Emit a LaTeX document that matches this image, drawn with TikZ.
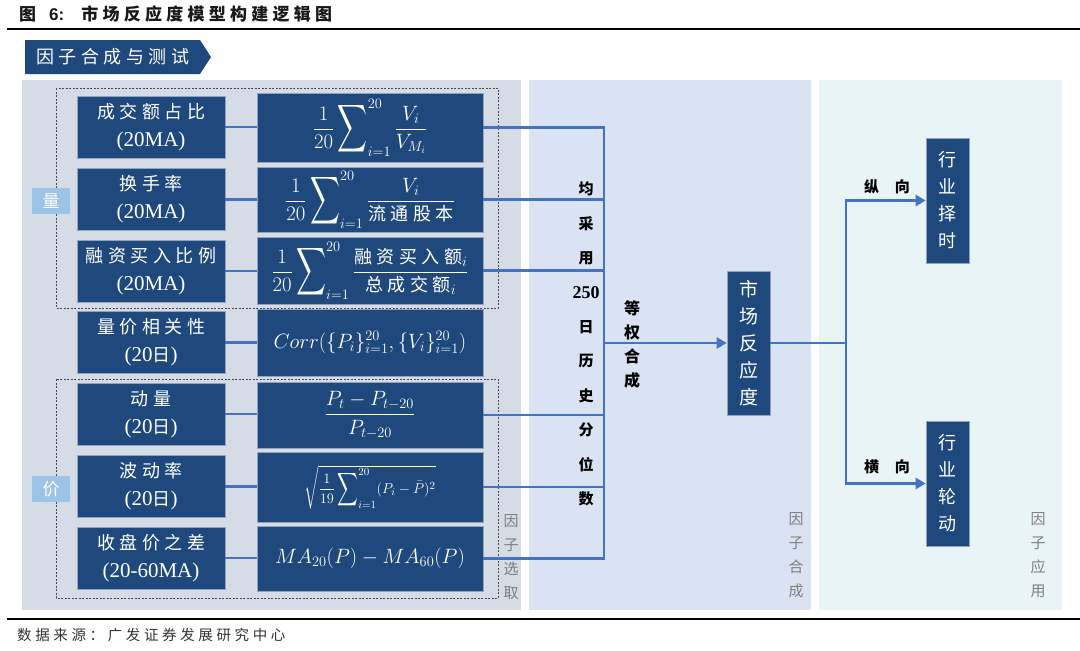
\documentclass[tikz,border=0pt]{standalone}
\usepackage{amsmath}
\usepackage{graphicx}
\usepackage{fontspec}
\setmainfont{Liberation Serif}
\newfontfamily\cjk{Noto Sans CJK SC}
\newfontfamily\cjks[LetterSpace=25]{Noto Sans CJK SC}
\newfontfamily\arialb{Liberation Sans}
\usetikzlibrary{arrows.meta}

\definecolor{navy}{HTML}{1F497D}
\definecolor{linkblue}{HTML}{4472C4}
\definecolor{panelA}{HTML}{D6DCE5}
\definecolor{panelB}{HTML}{DAE3F3}
\definecolor{panelC}{HTML}{E9F4F6}
\definecolor{tagblue}{HTML}{9DC3E6}
\definecolor{graytxt}{HTML}{7F7F7F}

\newcommand{\zh}[1]{{\cjks\fontsize{18}{28}\selectfont #1}}
\newcommand{\bigsig}{\mathop{\vcenter{\hbox{\scalebox{1}[1.6]{$\displaystyle\sum$}}}}\nolimits}

\tikzset{
  factor/.style={draw=navy!50!white, line width=0.6pt, fill=navy, text=white,
    minimum width=148pt, minimum height=62pt, inner sep=0pt, align=center,
    font=\fontsize{21}{28}\selectfont},
  formula/.style={factor, minimum width=226pt, font=\fontsize{20}{24}\selectfont},
  vbox/.style={factor, minimum width=43pt, font=\cjk\fontsize{18}{27}\selectfont},
  tag/.style={fill=tagblue, text=white, minimum width=38pt, minimum height=26pt,
    inner sep=0pt, font=\cjk\fontsize{17}{17}\selectfont},
  link/.style={draw=linkblue, line width=2.6pt},
  bus/.style={link, line cap=rect},
  arrow/.style={link, -{Triangle[length=10pt,width=11pt]}},
  zone/.style={text=graytxt, align=center, inner sep=0pt,
    font=\cjk\fontsize{15}{24}\selectfont},
  note/.style={align=center, inner sep=0pt, text=black},
}

\begin{document}
\begin{tikzpicture}[x=1pt, y=-1pt]
  \useasboundingbox (0,0) rectangle (1080,651);

  % 标题与分隔线
  \node[anchor=west, inner sep=0pt, text=black!90] (title) at (19,14)
    {{\cjk\bfseries\fontsize{17}{17}\selectfont 图}\hspace{13pt}{\arialb\bfseries\fontsize{17}{17}\selectfont 6:}\hspace{17pt}{\cjks\bfseries\fontsize{17}{17}\selectfont 市场反应度模型构建逻辑图}};
  \draw[line width=1.6pt] (7,29) -- (1080,29);
  \draw[line width=1.6pt] (7,619) -- (1080,619);
  \node[anchor=west, inner sep=0pt, text=black!80] (src) at (17,635)
    {\cjks\fontsize{14.5}{15}\selectfont 数据来源：广发证券发展研究中心};

  % 标签页
  \fill[navy] (25,40) -- (200,40) -- (211,57) -- (200,74) -- (25,74) -- cycle;
  \node[anchor=west, inner sep=0pt, text=white] (tab) at (36,57)
    {\cjks\fontsize{18}{18}\selectfont 因子合成与测试};

  % 三个背景分区
  \fill[panelA] (22,80) rectangle (521,610);
  \fill[panelB] (529,80) rectangle (811,610);
  \fill[panelC] (819,80) rectangle (1062,610);
  \node[zone] (zsel) at (511,557) {因\\子\\选\\取};
  \node[zone] (zsyn) at (796,555) {因\\子\\合\\成};
  \node[zone] (zuse) at (1038,555) {因\\子\\应\\用};

  % 虚线分组：量、价
  \draw[dashed, dash pattern=on 2pt off 1.5pt, black!70, line width=0.8pt] (56,88) rectangle (498,308);
  \draw[dashed, dash pattern=on 2pt off 1.5pt, black!70, line width=0.8pt] (56,379) rectangle (498,598);
  \node[tag] (vol) at (51,201) {量};
  \node[tag] (prc) at (51,489) {价};

  % 因子名称
  \node[factor] (f1) at (151,127)   {\zh{成交额占比}\\(20MA)};
  \node[factor] (f2) at (151,199.5) {\zh{换手率}\\(20MA)};
  \node[factor] (f3) at (151,271)   {\zh{融资买入比例}\\(20MA)};
  \node[factor] (f4) at (151,342.5) {\zh{量价相关性}\\(20\zh{日})};
  \node[factor] (f5) at (151,414)   {\zh{动量}\\(20\zh{日})};
  \node[factor] (f6) at (151,486.5) {\zh{波动率}\\(20\zh{日})};
  \node[factor] (f7) at (151,558)   {\zh{收盘价之差}\\(20-60MA)};

  % 因子公式
  \node[formula, minimum height=69pt] (g1) at (370,127.5)
    {$\displaystyle\frac{1}{20}\bigsig_{i=1}^{20}\frac{V_i}{V_{M_i}}$};
  \node[formula, minimum height=65pt] (g2) at (370,199.5)
    {$\displaystyle\frac{1}{20}\bigsig_{i=1}^{20}\frac{V_i}{\mbox{\zh{流通股本}}}$};
  \node[formula, minimum height=67pt] (g3) at (370,270.5)
    {$\displaystyle\frac{1}{20}\bigsig_{i=1}^{20}\frac{\mbox{\zh{融资买入额}}_i}{\mbox{\zh{总成交额}}_i}$};
  \node[formula, minimum height=67pt] (g4) at (370,342.5)
    {$Corr(\{P_i\}_{i=1}^{20},\{V_i\}_{i=1}^{20})$};
  \node[formula, minimum height=66pt] (g5) at (370,415)
    {$\displaystyle\frac{P_t-P_{t-20}}{P_{t-20}}$};
  \node[formula, minimum height=70pt, font=\fontsize{15}{18}\selectfont] (g6) at (370,487)
    {$\displaystyle\sqrt{\frac{1}{19}\bigsig_{i=1}^{20}(P_i-\bar{P})^2}$};
  \node[formula, minimum height=65pt] (g7) at (370,558.5)
    {$MA_{20}(P)-MA_{60}(P)$};

  % 因子 -> 公式
  \foreach \i in {1,...,7}
    \draw[link] (f\i.east) -- (f\i.east -| g\i.west);

  % 公式 -> 汇总线
  \coordinate (busN) at (604,127.5);
  \coordinate (busS) at (604,558.5);
  \foreach \i in {1,2,3,5,6,7}
    \draw[link] (g\i.east) -- (g\i.east -| busN);
  \draw[bus] (busN) -- (busS);

  \node[note, font=\cjk\bfseries\fontsize{15}{34.4}\selectfont] (pct) at (586,344)
    {均\\采\\用\\{\rmfamily\fontsize{18}{34.4}\selectfont 250}\\日\\历\\史\\分\\位\\数};
  \node[note, font=\cjk\bfseries\fontsize{16}{24}\selectfont] (eqw) at (632,344)
    {等\\权\\合\\成};

  % 市场反应度
  \node[vbox, minimum height=144pt, font=\cjk\fontsize{19}{27}\selectfont] (mkt) at (748.5,343)
    {市\\场\\反\\应\\度};
  \draw[arrow] (mkt.west -| busN) -- (mkt.west);

  % 应用
  \node[vbox, minimum height=125pt] (t1) at (947.5,200.5) {行\\业\\择\\时};
  \node[vbox, minimum height=125pt] (t2) at (947.5,483.5) {行\\业\\轮\\动};
  \coordinate (split) at (846,343);
  \draw[link] (mkt.east) -- (split);
  \draw[bus] (t1.west -| split) -- (t2.west -| split);
  \draw[arrow] (t1.west -| split) -- (t1.west);
  \draw[arrow] (t2.west -| split) -- (t2.west);
  \node[note, font=\cjk\bfseries\fontsize{15}{15}\selectfont] (lz) at (887,187) {纵\hspace{16pt}向};
  \node[note, font=\cjk\bfseries\fontsize{15}{15}\selectfont] (lh) at (887,467) {横\hspace{16pt}向};
\end{tikzpicture}
\end{document}
